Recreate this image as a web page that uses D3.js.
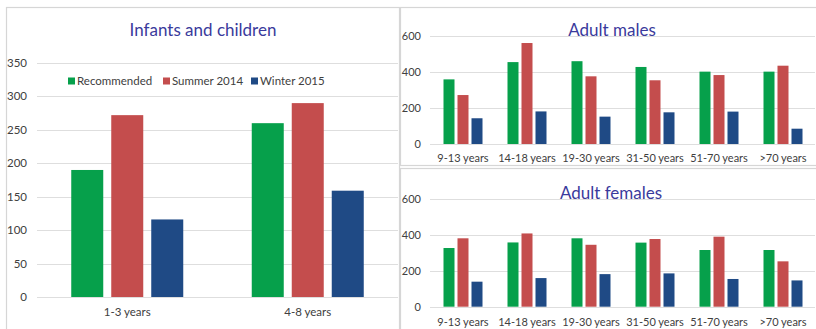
<!DOCTYPE html>
<html>
<head>
<meta charset="utf-8">
<script src="https://cdn.jsdelivr.net/npm/d3@7"></script>
<style>
  html, body { margin: 0; padding: 0; background: #fff; }
  svg { display: block; font-family: "Lato", "Open Sans", sans-serif; }
</style>
</head>
<body>
<svg id="chart" width="816" height="329"></svg>
<script>
// Series shared by all three panels
const seriesNames = ["Recommended", "Summer 2014", "Winter 2015"];
const seriesColors = ["#06a04b", "#c44d4d", "#1f4a85"];

// Infants and children
const childCategories = ["1-3 years", "4-8 years"];
const childRecommended = [190, 260];
const childSummer = [272, 290];
const childWinter = [116, 159];
const childTicks = [0, 50, 100, 150, 200, 250, 300, 350];

// Adults
const adultCategories = ["9-13 years", "14-18 years", "19-30 years", "31-50 years", "51-70 years", ">70 years"];
const maleRecommended = [359, 455, 460, 428, 402, 402];
const maleSummer = [272, 561, 376, 354, 383, 435];
const maleWinter = [143, 181, 152, 176, 180, 85];
const femaleRecommended = [326, 357, 380, 356, 315, 315];
const femaleSummer = [380, 407, 344, 376, 389, 252];
const femaleWinter = [139, 159, 181, 185, 154, 146];
const adultTicks = [0, 200, 400, 600];

const svg = d3.select("#chart");

// Panel frames
const frames = [
  { x: 6.5, y: 7.5, w: 393, h: 330 },
  { x: 400.5, y: 7.5, w: 420, h: 158 },
  { x: 400.5, y: 168.5, w: 420, h: 170 }
];
svg.selectAll("rect.frame").data(frames).join("rect")
  .attr("class", "frame")
  .attr("x", d => d.x).attr("y", d => d.y)
  .attr("width", d => d.w).attr("height", d => d.h)
  .attr("fill", "#fff").attr("stroke", "#d6d6d6").attr("stroke-width", 1.2);

function drawPanel(opt) {
  const g = svg.append("g");
  const y = d3.scaleLinear().domain(opt.domain).range([opt.y0, opt.y1]);
  const x = d3.scaleBand().domain(opt.categories).range([opt.x0, opt.x1]);
  const inner = d3.scaleBand().domain(seriesNames)
    .range([0, opt.groupWidth]).paddingInner(opt.innerPad);
  const off = (x.bandwidth() - opt.groupWidth) / 2;

  // Gridlines
  g.selectAll("line.grid").data(opt.ticks).join("line")
    .attr("x1", opt.gridX0).attr("x2", opt.x1)
    .attr("y1", d => Math.round(y(d)) + 0.5).attr("y2", d => Math.round(y(d)) + 0.5)
    .attr("stroke", "#dedede").attr("stroke-width", 1.2);

  // Value axis labels
  g.selectAll("text.tick").data(opt.ticks).join("text")
    .attr("x", opt.tickX).attr("y", d => y(d))
    .attr("dy", "0.35em").attr("text-anchor", "end")
    .attr("font-size", opt.tickSize).attr("fill", "#404040")
    .text(d => d);

  // Bars
  const rows = opt.categories.map((c, i) => ({
    cat: c,
    vals: seriesNames.map((s, k) => ({ s, k, v: opt.values[k][i] }))
  }));
  const groups = g.selectAll("g.cat").data(rows).join("g")
    .attr("transform", d => `translate(${x(d.cat) + off},0)`);
  groups.selectAll("rect").data(d => d.vals).join("rect")
    .attr("x", d => inner(d.s)).attr("width", inner.bandwidth())
    .attr("y", d => y(d.v)).attr("height", d => y(0) - y(d.v))
    .attr("fill", d => seriesColors[d.k]);

  // Category labels
  g.selectAll("text.cat").data(opt.categories).join("text")
    .attr("x", d => x(d) + x.bandwidth() / 2).attr("y", opt.catY)
    .attr("dy", "0.35em").attr("text-anchor", "middle")
    .attr("font-size", opt.catSize).attr("fill", "#404040")
    .text(d => d);

  // Title
  g.append("text")
    .attr("x", opt.titleX).attr("y", opt.titleY)
    .attr("dy", "0.35em").attr("text-anchor", "middle")
    .attr("font-size", opt.titleSize).attr("fill", "#3a3a9c")
    .text(opt.title);
  return g;
}

drawPanel({
  title: "Infants and children", titleX: 203, titleY: 30, titleSize: 17,
  categories: childCategories,
  values: [childRecommended, childSummer, childWinter],
  domain: [0, 350], y0: 297, y1: 63, ticks: childTicks,
  x0: 37, x1: 398, gridX0: 37, groupWidth: 112, innerPad: 0.2,
  tickX: 27, tickSize: 11.5, catY: 312, catSize: 11.5
});

drawPanel({
  title: "Adult males", titleX: 612, titleY: 30, titleSize: 17,
  categories: adultCategories,
  values: [maleRecommended, maleSummer, maleWinter],
  domain: [0, 600], y0: 144, y1: 36, ticks: adultTicks,
  x0: 431, x1: 815, gridX0: 430, groupWidth: 39, innerPad: 3 / 14,
  tickX: 421, tickSize: 11, catY: 158, catSize: 11
});

drawPanel({
  title: "Adult females", titleX: 611, titleY: 193, titleSize: 17,
  categories: adultCategories,
  values: [femaleRecommended, femaleSummer, femaleWinter],
  domain: [0, 600], y0: 306.7, y1: 198.7, ticks: adultTicks,
  x0: 431, x1: 815, gridX0: 430, groupWidth: 39, innerPad: 3 / 14,
  tickX: 421, tickSize: 11, catY: 322, catSize: 11
});

// Legend in the infants panel
const legendX = [68, 163, 251];
const legend = svg.append("g");
const items = legend.selectAll("g").data(seriesNames).join("g")
  .attr("transform", (d, i) => `translate(${legendX[i]},81)`);
items.append("rect")
  .attr("x", 0).attr("y", -3.5).attr("width", 7).attr("height", 7)
  .attr("fill", (d, i) => seriesColors[i]);
items.append("text")
  .attr("x", 9).attr("y", 0).attr("dy", "0.35em")
  .attr("font-size", 11.5).attr("fill", "#404040")
  .text(d => d);
</script>
</body>
</html>
